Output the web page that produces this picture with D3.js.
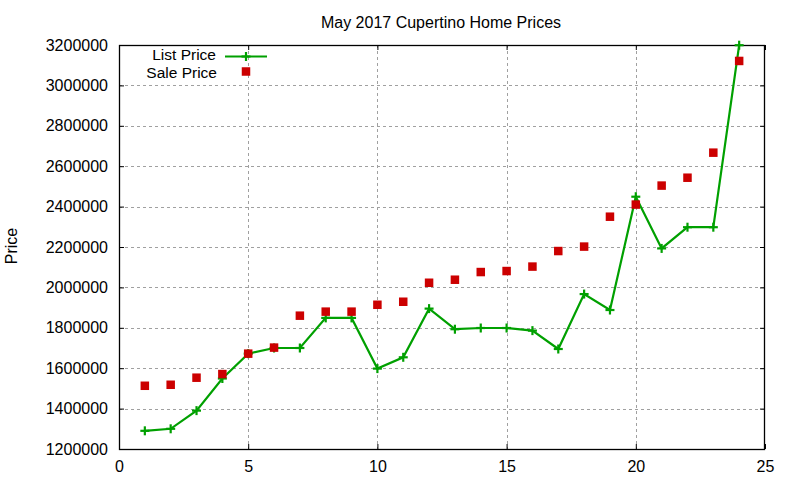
<!DOCTYPE html>
<html>
<head>
<meta charset="utf-8">
<script src="https://cdn.jsdelivr.net/npm/d3@7"></script>
<style>
  body { margin: 0; background: #fff; }
  svg { display: block; }
  text { font-family: "Liberation Sans", Arial, sans-serif; fill: #000; }
</style>
</head>
<body>
<svg id="chart" width="800" height="480"></svg>
<script>
const days = [1,2,3,4,5,6,7,8,9,10,11,12,13,14,15,16,17,18,19,20,21,22,23,24];
const listPrice = [1290000,1300000,1390000,1549000,1672000,1700000,1700000,1849000,1849000,1598000,1654000,1895000,1793000,1799000,1799000,1786000,1695000,1967000,1888000,2449000,2193000,2298000,2298000,3199000];
const salePrice = [1513000,1518000,1553000,1571000,1672000,1702000,1860000,1880000,1880000,1914000,1929000,2023000,2038000,2076000,2081000,2103000,2180000,2202000,2350000,2410000,2504000,2543000,2667000,3121000];
const xTicks = [0,5,10,15,20,25];
const yTicks = [1200000,1400000,1600000,1800000,2000000,2200000,2400000,2600000,2800000,3000000,3200000];
const title = "May 2017 Cupertino Home Prices";
const yLabel = "Price";
const seriesNames = ["List Price", "Sale Price"];

const L = 119, R = 765, T = 45, B = 449;
const green = "#00a000", red = "#cc0000";
const fs = "16px";

const svg = d3.select("#chart");
const x = d3.scaleLinear().domain([0, 25]).range([L, R]);
const y = d3.scaleLinear().domain([1200000, 3200000]).range([B, T]);

// grid
const grid = svg.append("g").attr("stroke", "#a0a0a0").attr("stroke-width", 1).attr("stroke-dasharray", "3,3");
grid.selectAll("line.v").data(xTicks.slice(1, -1)).join("line")
  .attr("x1", d => Math.round(x(d)) + 0.5).attr("x2", d => Math.round(x(d)) + 0.5)
  .attr("y1", T).attr("y2", B);
grid.selectAll("line.h").data(yTicks.slice(1, -1)).join("line")
  .attr("y1", d => Math.round(y(d)) + 0.5).attr("y2", d => Math.round(y(d)) + 0.5)
  .attr("x1", L).attr("x2", R);

// axes via d3 (inner ticks, mirrored)
const tickLen = 5;
const axL = svg.append("g").attr("transform", `translate(${L},0)`)
  .call(d3.axisLeft(y).tickValues(yTicks).tickFormat(d3.format("d")).tickSizeInner(-tickLen).tickSizeOuter(0).tickPadding(11));
const axR = svg.append("g").attr("transform", `translate(${R},0)`)
  .call(d3.axisRight(y).tickValues(yTicks).tickFormat("").tickSizeInner(-tickLen).tickSizeOuter(0));
const axB = svg.append("g").attr("transform", `translate(0,${B})`)
  .call(d3.axisBottom(x).tickValues(xTicks).tickFormat(d3.format("d")).tickSizeInner(-tickLen).tickSizeOuter(0).tickPadding(12));
const axT = svg.append("g").attr("transform", `translate(0,${T})`)
  .call(d3.axisTop(x).tickValues(xTicks).tickFormat("").tickSizeInner(-tickLen).tickSizeOuter(0));
[axL, axR, axB, axT].forEach(a => {
  a.select(".domain").remove();
  a.selectAll("line").attr("stroke", "#000");
  a.selectAll("text").style("font-size", fs).style("font-family", "'Liberation Sans', Arial, sans-serif").attr("fill", "#000");
});

// border
svg.append("rect").attr("x", L + 0.5).attr("y", T + 0.5).attr("width", R - L - 1).attr("height", B - T)
  .attr("fill", "none").attr("stroke", "#000").attr("stroke-width", 1.3);

// list price line
const pts = days.map((d, i) => [d, listPrice[i]]);
svg.append("path").datum(pts)
  .attr("d", d3.line().x(d => x(d[0])).y(d => y(d[1])))
  .attr("fill", "none").attr("stroke", green).attr("stroke-width", 2.2);
const plus = (g, cx, cy, s) => {
  g.append("line").attr("x1", cx - s).attr("x2", cx + s).attr("y1", cy).attr("y2", cy);
  g.append("line").attr("x1", cx).attr("x2", cx).attr("y1", cy - s).attr("y2", cy + s);
};
const pg = svg.append("g").attr("stroke", green).attr("stroke-width", 2.2);
pts.forEach(p => plus(pg, x(p[0]), y(p[1]), 4.5));

// sale price squares
const sq = 8.5;
svg.append("g").selectAll("rect").data(days.map((d, i) => [d, salePrice[i]])).join("rect")
  .attr("x", d => x(d[0]) - sq / 2).attr("y", d => y(d[1]) - sq / 2)
  .attr("width", sq).attr("height", sq).attr("fill", red);

// legend
svg.append("text").attr("x", 216).attr("y", 60).attr("text-anchor", "end").style("font-size", "15.5px").text(seriesNames[0]);
svg.append("line").attr("x1", 225).attr("x2", 267).attr("y1", 56.5).attr("y2", 56.5).attr("stroke", green).attr("stroke-width", 2.2);
plus(svg.append("g").attr("stroke", green).attr("stroke-width", 2.2), 246, 56.5, 4.5);
svg.append("text").attr("x", 217).attr("y", 77.5).attr("text-anchor", "end").style("font-size", "15.5px").text(seriesNames[1]);
svg.append("rect").attr("x", 246 - sq / 2).attr("y", 71.5 - sq / 2).attr("width", sq).attr("height", sq).attr("fill", red);

// title & y label
svg.append("text").attr("x", 441).attr("y", 27.5).attr("text-anchor", "middle").style("font-size", fs).text(title);
svg.append("text").attr("transform", "translate(17,246) rotate(-90)").attr("text-anchor", "middle").style("font-size", fs).text(yLabel);
</script>
</body>
</html>
